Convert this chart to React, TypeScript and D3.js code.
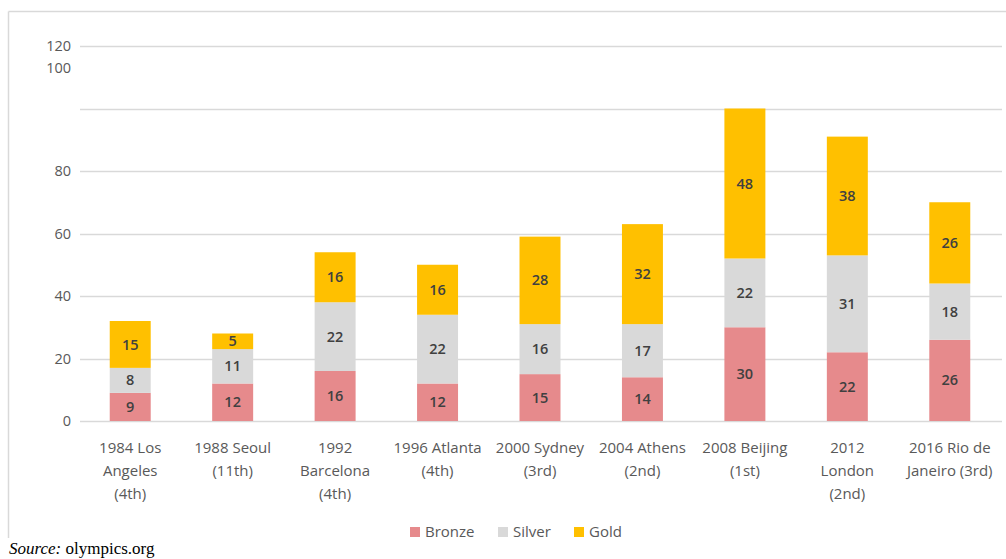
import React from "react";
import * as d3 from "d3";

const categories = [
  "1984 Los\nAngeles\n(4th)",
  "1988 Seoul\n(11th)",
  "1992\nBarcelona\n(4th)",
  "1996 Atlanta\n(4th)",
  "2000 Sydney\n(3rd)",
  "2004 Athens\n(2nd)",
  "2008 Beijing\n(1st)",
  "2012\nLondon\n(2nd)",
  "2016 Rio de\nJaneiro (3rd)",
];
const bronze = [9, 12, 16, 12, 15, 14, 30, 22, 26];
const silver = [8, 11, 22, 22, 16, 17, 22, 31, 18];
const gold = [15, 5, 16, 16, 28, 32, 48, 38, 26];
const seriesNames = ["Bronze", "Silver", "Gold"];
const seriesColors = ["#e68a8c", "#d9d9d9", "#ffc000"];
const gridValues = [0, 20, 40, 60, 80, 100, 120];
const tickLabels = ["0", "20", "40", "60", "80", "100", "120"];

const W = 1006;
const H = 559;
const FONT = "'Open Sans', 'Noto Sans', sans-serif";

export default function App() {
  const x = d3
    .scaleBand<number>()
    .domain(d3.range(categories.length))
    .range([79, 1001])
    .paddingInner(0.6)
    .paddingOuter(0.3);
  const y = d3.scaleLinear().domain([0, 120]).range([421, 46]);

  const rows = categories.map((c, i) => ({ i, Bronze: bronze[i], Silver: silver[i], Gold: gold[i] }));
  const stack = d3.stack<any>().keys(seriesNames)(rows);

  // Tick label positions: "100" label sits just below the "120" label as in the source
  const tickY = (v: number) => (v === 100 ? y(120) + 22 : y(v));

  const legendX = [410, 498, 574];

  return (
    <svg
      width={W}
      height={H}
      style={{ position: "absolute", left: 0, top: 0, background: "#fff" }}
      fontFamily={FONT}
    >
      <rect x={0} y={0} width={W} height={H} fill="#fff" />
      {/* frame */}
      <line x1={8.5} x2={W} y1={11.5} y2={11.5} stroke="#d9d9d9" strokeWidth={1.5} />
      <line x1={8.5} x2={8.5} y1={11.5} y2={538} stroke="#d9d9d9" strokeWidth={1.5} />

      {/* gridlines */}
      {gridValues.map((v) => (
        <line
          key={v}
          x1={80}
          x2={1002}
          y1={Math.round(y(v)) + 0.5}
          y2={Math.round(y(v)) + 0.5}
          stroke="#d9d9d9"
          strokeWidth={1.5}
        />
      ))}
      {/* y tick labels */}
      {gridValues.map((v, k) => (
        <text
          key={v}
          x={71}
          y={tickY(v)}
          dy="0.35em"
          textAnchor="end"
          fontSize={14.5}
          fill="#595959"
        >
          {tickLabels[k]}
        </text>
      ))}

      {/* bars */}
      {stack.map((s, si) => (
        <g key={s.key}>
          {s.map((d, i) => (
            <rect
              key={i}
              x={x(i)!}
              width={x.bandwidth()}
              y={y(d[1])}
              height={y(d[0]) - y(d[1])}
              fill={seriesColors[si]}
            />
          ))}
        </g>
      ))}
      {/* data labels */}
      {stack.map((s) => (
        <g key={"l" + s.key}>
          {s.map((d, i) => (
            <text
              key={i}
              x={x(i)! + x.bandwidth() / 2}
              y={(y(d[0]) + y(d[1])) / 2}
              dy="0.35em"
              textAnchor="middle"
              fontSize={14.5}
              fontWeight={600}
              fill="#404040"
            >
              {d[1] - d[0]}
            </text>
          ))}
        </g>
      ))}

      {/* x labels */}
      {categories.map((c, i) => (
        <text
          key={i}
          x={x(i)! + x.bandwidth() / 2}
          y={448}
          textAnchor="middle"
          fontSize={15}
          fill="#595959"
        >
          {c.split("\n").map((line, li) => (
            <tspan key={li} x={x(i)! + x.bandwidth() / 2} dy={li === 0 ? "0.35em" : 23}>
              {line}
            </tspan>
          ))}
        </text>
      ))}

      {/* legend */}
      {seriesNames.map((n, k) => (
        <g key={n} transform={`translate(${legendX[k]},532)`}>
          <rect x={0} y={-5} width={10} height={10} fill={seriesColors[k]} />
          <text x={15} dy="0.35em" fontSize={15} fill="#595959">
            {n}
          </text>
        </g>
      ))}

      {/* source */}
      <text x={9} y={554} fontFamily="'Liberation Serif', 'Times New Roman', serif" fontSize={17} fill="#000">
        <tspan fontStyle="italic">Source:</tspan>
        <tspan> olympics.org</tspan>
      </text>
    </svg>
  );
}
